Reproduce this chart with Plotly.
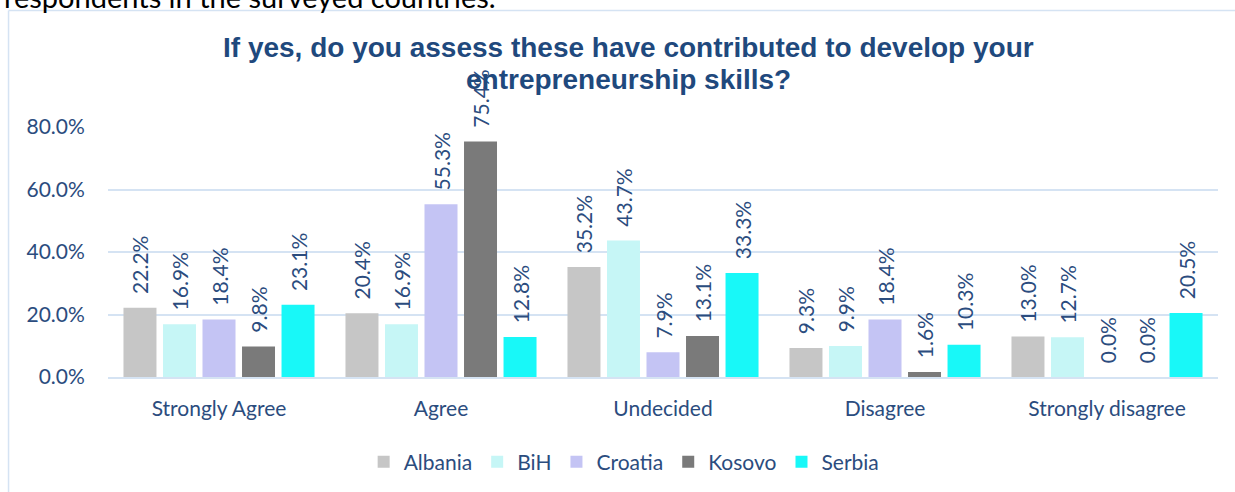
#!/usr/bin/env python3
# -*- coding: utf-8 -*-

'''
entrepreneurship skills survey - grouped bar chart
'''

import plotly.graph_objects as go

# data
categories = ["Strongly Agree", "Agree", "Undecided", "Disagree", "Strongly disagree"]
countries = ["Albania", "BiH", "Croatia", "Kosovo", "Serbia"]
albania = [0.222, 0.204, 0.352, 0.093, 0.130]
bih = [0.169, 0.169, 0.437, 0.099, 0.127]
croatia = [0.184, 0.553, 0.079, 0.184, 0.0]
kosovo = [0.098, 0.754, 0.131, 0.016, 0.0]
serbia = [0.231, 0.128, 0.333, 0.103, 0.205]
y_ticks = [0.0, 0.2, 0.4, 0.6, 0.8]

series = [albania, bih, croatia, kosovo, serbia]
colors = ["#c6c6c6", "#c6f6f6", "#c4c4f4", "#7a7a7a", "#18f8f8"]

TEXT_BLUE = "#2b4c7e"
TITLE_BLUE = "#1f497d"
GRID = "#d5e3f3"
FONT = "Lato"

fig = go.Figure()
for name, vals, col in zip(countries, series, colors):
    fig.add_trace(go.Bar(
        x=categories, y=vals, name=name,
        marker=dict(color=col, line=dict(width=0)),
        texttemplate="\u00a0\u00a0%{y:.1%}",
        textposition="outside", textangle=-90, constraintext="none",
        textfont=dict(family=FONT, size=21, color=TEXT_BLUE),
        cliponaxis=False,
    ))

fig.update_layout(
    width=1235, height=492,
    margin=dict(l=108, r=17, t=127, b=115, autoexpand=False),
    paper_bgcolor="white", plot_bgcolor="white",
    barmode="group", bargap=0.11, bargroupgap=0.165,
    font=dict(family=FONT, size=21, color=TEXT_BLUE),
    legend=dict(
        orientation="h", x=0.465, xanchor="center", y=-0.34, yanchor="middle",
        font=dict(family=FONT, size=21, color=TEXT_BLUE),
        itemwidth=30, traceorder="normal",
    ),
    showlegend=True,
)

fig.update_yaxes(
    range=[0, 0.8], tickvals=y_ticks, tickformat=".1%",
    showgrid=True, gridcolor=GRID, gridwidth=1.5,
    zeroline=False, showline=False,
    ticks="outside", ticklen=18, tickcolor="rgba(0,0,0,0)",
    tickfont=dict(family=FONT, size=21, color=TEXT_BLUE),
)
fig.update_xaxes(
    showline=True, linecolor=GRID, linewidth=1.5,
    ticks="outside", ticklen=12, tickcolor="rgba(0,0,0,0)",
    tickfont=dict(family=FONT, size=21, color=TEXT_BLUE),
)

# title, two lines placed separately
title_font = dict(family="Liberation Sans", size=28, color=TITLE_BLUE, weight="bold")
fig.add_annotation(text="If yes, do you assess these have contributed to develop your",
                   xref="paper", yref="paper", x=0.4692, y=1.316,
                   xanchor="center", yanchor="middle", showarrow=False, font=title_font)
fig.add_annotation(text="entrepreneurship skills?",
                   xref="paper", yref="paper", x=0.4692, y=1.192,
                   xanchor="center", yanchor="middle", showarrow=False, font=title_font)

# chart border (light blue frame, top and left visible)
fig.add_shape(type="line", xref="paper", yref="paper",
              x0=-0.0896, x1=1.1, y0=1.466, y1=1.466,
              line=dict(color=GRID, width=1.5))
fig.add_shape(type="line", xref="paper", yref="paper",
              x0=-0.0896, x1=-0.0896, y0=1.466, y1=-0.6,
              line=dict(color=GRID, width=1.5))

# document text cut off above the chart
fig.add_annotation(
    text="respondents in the surveyed countries.",
    xref="paper", yref="paper", x=-0.0954, y=1.524,
    xanchor="left", yanchor="middle", showarrow=False,
    font=dict(family=FONT, size=29, color="black"),
)

# drop the default 8px page margin so the figure sits at the window corner
fig.write_html("out.html", config={"displayModeBar": False},
               post_script="document.body.style.margin = '0';")
